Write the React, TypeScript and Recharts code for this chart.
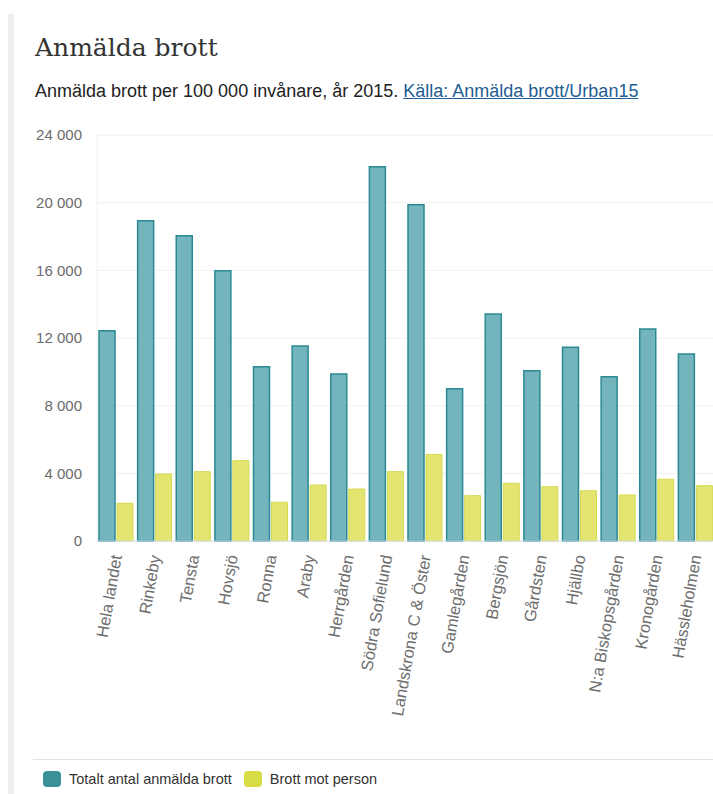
import React from 'react';
import { BarChart, Bar, XAxis, YAxis, CartesianGrid } from 'recharts';

const categories = [
  'Hela landet',
  'Rinkeby',
  'Tensta',
  'Hovsjö',
  'Ronna',
  'Araby',
  'Herrgården',
  'Södra Sofielund',
  'Landskrona C & Öster',
  'Gamlegården',
  'Bergsjön',
  'Gårdsten',
  'Hjällbo',
  'N:a Biskopsgården',
  'Kronogården',
  'Hässleholmen',
];

const totalCrimes = [
  12430, 18930, 18050, 15980, 10300, 11530, 9870, 22130, 19880, 9000, 13420, 10070, 11450, 9710, 12530, 11050,
];

const crimesAgainstPerson = [
  2230, 3960, 4100, 4750, 2290, 3310, 3070, 4100, 5120, 2680, 3410, 3210, 2970, 2720, 3650, 3270,
];

const yTicks = [0, 4000, 8000, 12000, 16000, 20000, 24000];

const seriesNames = ['Totalt antal anmälda brott', 'Brott mot person'];

const TEAL = '#74b4bc';
const TEAL_EDGE = '#2b8a94';
const YELLOW = '#e3e570';
const YELLOW_EDGE = '#d5d94f';

const sansFont = '"Liberation Sans", Arial, sans-serif';

const formatThousands = (v: number) => String(v).replace(/\B(?=(\d{3})+(?!\d))/g, ' ');

// rotated category label, centred on the tick
const CategoryTick = (props: any) => {
  const { x, y, payload } = props;
  return (
    <g transform={`translate(${x},${y})`}>
      <text
        transform="rotate(-80)"
        textAnchor="end"
        dy="0.35em"
        fill="#6e6e6e"
        fontSize={16.5}
        fontFamily={sansFont}
      >
        {payload.value}
      </text>
    </g>
  );
};

export default function App() {
  const data = categories.map((name, i) => ({
    name,
    total: totalCrimes[i],
    person: crimesAgainstPerson[i],
  }));

  return (
    <div
      style={{
        position: 'absolute',
        left: 0,
        top: 0,
        width: 713,
        height: 794,
        overflow: 'hidden',
        background: '#fff',
        fontFamily: sansFont,
      }}
    >
      <div style={{ position: 'absolute', left: 8, top: 14, width: 6, bottom: 0, background: '#efefef' }} />

      <div
        style={{
          position: 'absolute',
          left: 35,
          top: 35,
          fontFamily: '"DejaVu Serif", Georgia, serif',
          fontSize: 25,
          lineHeight: 1,
          color: '#333',
        }}
      >
        Anmälda brott
      </div>

      <div
        style={{
          position: 'absolute',
          left: 35,
          top: 82,
          fontSize: 18,
          lineHeight: 1,
          color: '#222',
          whiteSpace: 'nowrap',
        }}
      >
        Anmälda brott per 100 000 invånare, år 2015.{' '}
        <span style={{ color: '#1f5d94', textDecoration: 'underline' }}>Källa: Anmälda brott/Urban15</span>
      </div>

      <div style={{ position: 'absolute', left: 0, top: 120 }}>
        <BarChart
          width={730}
          height={640}
          data={data}
          margin={{ top: 15, right: 15, left: 0, bottom: 0 }}
          barSize={16}
          barGap={2}
        >
          <CartesianGrid vertical={false} stroke="#f0f0f0" />
          <YAxis
            width={97}
            domain={[0, 24000]}
            ticks={yTicks}
            tickFormatter={formatThousands}
            axisLine={{ stroke: '#f2f2f2' }}
            tickLine={false}
            tickSize={0}
            tickMargin={15}
            tick={{ fill: '#6b6b6b', fontSize: 15, fontFamily: sansFont }}
          />
          <XAxis
            dataKey="name"
            interval={0}
            height={219}
            axisLine={{ stroke: '#d6e0ee' }}
            tickLine={false}
            tickSize={0}
            tickMargin={14}
            tick={<CategoryTick />}
          />
          <Bar
            dataKey="total"
            name={seriesNames[0]}
            fill={TEAL}
            stroke={TEAL_EDGE}
            strokeWidth={1.5}
            isAnimationActive={false}
          />
          <Bar
            dataKey="person"
            name={seriesNames[1]}
            fill={YELLOW}
            stroke={YELLOW_EDGE}
            strokeWidth={1}
            isAnimationActive={false}
          />
        </BarChart>
      </div>

      <div style={{ position: 'absolute', left: 33, right: 0, top: 759, height: 1, background: '#e2e2e2' }} />

      <div
        style={{
          position: 'absolute',
          left: 43,
          top: 771,
          display: 'flex',
          alignItems: 'center',
          fontSize: 14.5,
          color: '#333',
          whiteSpace: 'nowrap',
        }}
      >
        {seriesNames.map((name, i) => (
          <div key={name} style={{ display: 'flex', alignItems: 'center', marginRight: 12 }}>
            <span
              style={{
                display: 'inline-block',
                width: 18,
                height: 16,
                borderRadius: 4,
                background: i === 0 ? '#3a8f98' : '#d9dd45',
                marginRight: 8,
              }}
            />
            {name}
          </div>
        ))}
      </div>
    </div>
  );
}
